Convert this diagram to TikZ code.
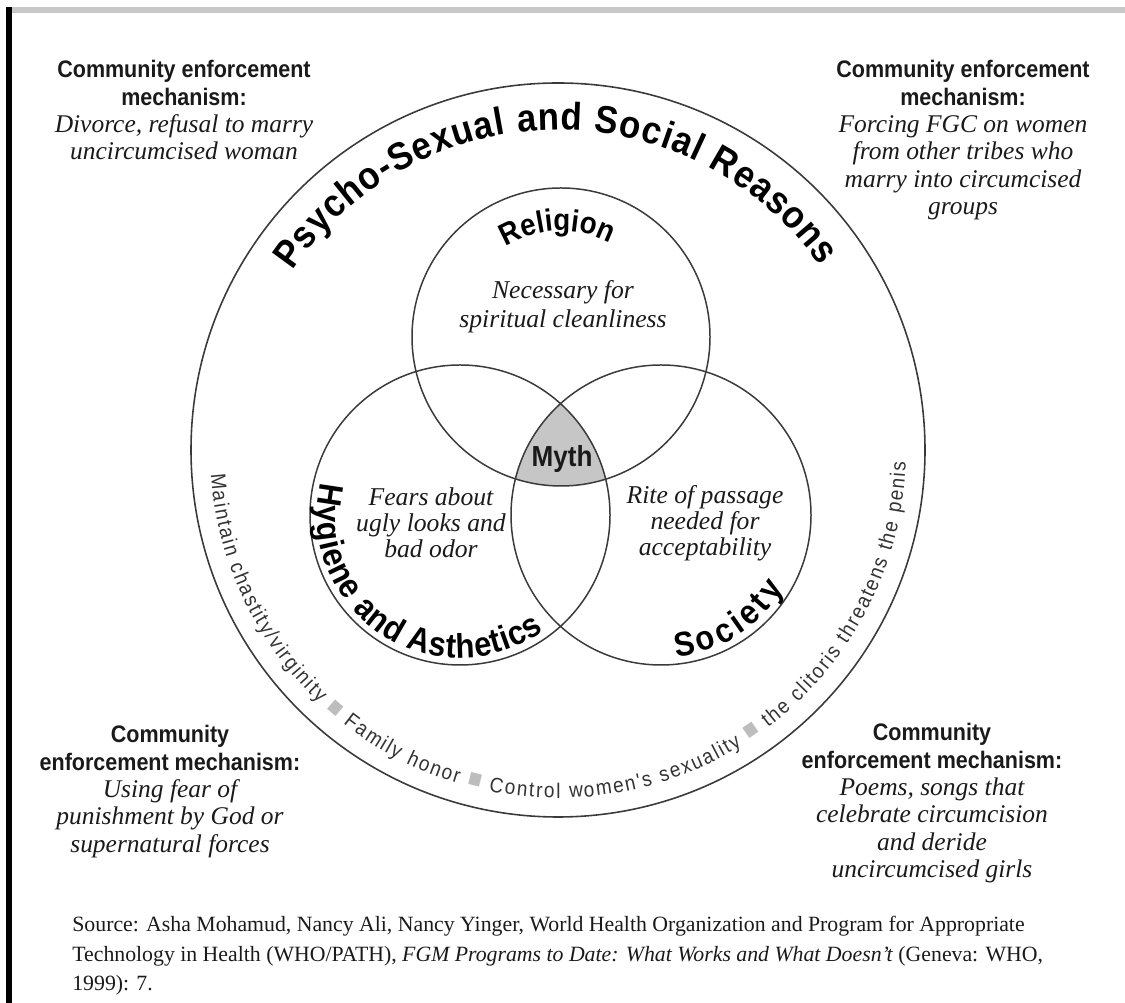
\documentclass[tikz,border=0pt]{standalone}
\usepackage{fontspec}
\setmainfont{Liberation Serif}
\newfontfamily\condsans[FakeStretch=0.9]{Liberation Sans}
\usetikzlibrary{decorations.text}
\definecolor{ink}{HTML}{1A1A1A}
\definecolor{rim}{HTML}{3A3A3A}
\definecolor{mythfill}{HTML}{C6C6C6}
\definecolor{ringtxt}{HTML}{333333}
\definecolor{sqgray}{HTML}{BDBDBD}
\definecolor{bar}{HTML}{C8C8C8}
\newcommand{\hd}{\condsans\bfseries\fontsize{13.6}{15.6}\selectfont}
\newcommand{\mechit}{\rmfamily\mdseries\itshape\fontsize{14.5}{15.6}\selectfont}
\newcommand{\titlefont}{\condsans\bfseries\fontsize{22}{24}\selectfont}
\newcommand{\circfont}{\condsans\bfseries\fontsize{17.5}{18}\selectfont}
\newcommand{\vennfont}{\condsans\bfseries\fontsize{19.5}{20}\selectfont}
\newcommand{\ringfont}{\condsans\fontsize{12}{13}\selectfont\color{ringtxt}}
\newcommand{\sqfont}{\condsans\fontsize{14.5}{15}\selectfont\color{sqgray}}
\tikzset{
  rimline/.style={draw=rim, line width=0.9pt},
  vennline/.style={draw=rim, line width=0.85pt},
  arclbl/.style 2 args={decorate, decoration={text along path, text={#1}, text align=#2}},
  corner/.style={align=center, inner sep=0pt, anchor=north, text=ink,
                 font=\fontsize{14}{15.6}\selectfont},
  note/.style={align=center, inner sep=0pt, text=ink,
               font=\rmfamily\itshape\fontsize{14.6}{14.7}\selectfont},
  mythlbl/.style={inner sep=0pt, text=ink, font=\condsans\bfseries\fontsize{16.5}{18}\selectfont},
  source/.style={align=left, inner sep=0pt, anchor=north west, text=ink,
                 font=\rmfamily\fontsize{12.4}{16.8}\selectfont}
}
\begin{document}
\begin{tikzpicture}[x=0.02cm,y=0.02cm]
  \useasboundingbox (0,0) rectangle (1125,1003);
  % frame
  \fill[bar] (12,990) rectangle (1125,996);
  \fill[black] (6,0) rectangle (12,996);

  \coordinate (outer) at (558,553);
  \coordinate (rel) at (561,666);
  \coordinate (hyg) at (460,488);
  \coordinate (soc) at (661,488);

  % shaded triple overlap
  \begin{scope}
    \clip (rel) circle[radius=149];
    \clip (hyg) circle[radius=150];
    \fill[mythfill] (soc) circle[radius=150];
  \end{scope}

  \draw[rimline] (outer) circle[radius=367];
  \foreach \c/\r in {rel/149, hyg/150, soc/150}
    \draw[vennline] (\c) circle[radius=\r];

  % curved labels
  \path[arclbl={|\titlefont|Psycho-Sexual and Social Reasons}{fit to path}]
    (outer) ++(146:320) arc[start angle=146, end angle=35, radius=320];
  \path[arclbl={|\circfont|Religion}{center}]
    (rel) ++(152:106) arc[start angle=152, end angle=32, radius=106];
  \path[arclbl={|\vennfont|Hygiene and Asthetics}{fit to path}]
    (hyg) ++(167:143) arc[start angle=167, end angle=306, radius=143];
  \path[arclbl={|\vennfont|Society}{fit to path}]
    (soc) ++(276:143) arc[start angle=276, end angle=329, radius=143];
  \path[arclbl={|\ringfont|Maintain chastity/virginity |\sqfont|■|\ringfont| Family honor |\sqfont|■|\ringfont| Control women's sexuality |\sqfont|■|\ringfont| the clitoris threatens the penis}{fit to path}]
    (outer) ++(184:348) arc[start angle=184, end angle=358, radius=348];

  % texts inside the circles
  \node[note, font=\rmfamily\itshape\fontsize{14.6}{16.4}\selectfont] (relnote) at (563,696) {Necessary for\\spiritual cleanliness};
  \node[note] (hygnote) at (431,480) {Fears about\\ugly looks and\\bad odor};
  \node[note] (socnote) at (705,480) {Rite of passage\\needed for\\acceptability};
  \node[mythlbl] (myth) at (562,544) {Myth};

  % enforcement mechanisms
  \node[corner] (mechTL) at (184,943)
    {\hd Community enforcement\\\hd mechanism:\\\mechit Divorce, refusal to marry\\\mechit uncircumcised woman};
  \node[corner] (mechTR) at (963,943)
    {\hd Community enforcement\\\hd mechanism:\\\mechit Forcing FGC on women\\\mechit from other tribes who\\\mechit marry into circumcised\\\mechit groups};
  \node[corner] (mechBL) at (170,278)
    {\hd Community\\\hd enforcement mechanism:\\\mechit Using fear of\\\mechit punishment by God or\\\mechit supernatural forces};
  \node[corner] (mechBR) at (932,280)
    {\hd Community\\\hd enforcement mechanism:\\\mechit Poems, songs that\\\mechit celebrate circumcision\\\mechit and deride\\\mechit uncircumcised girls};

  \node[source] (src) at (72,87)
    {Source: Asha Mohamud, Nancy Ali, Nancy Yinger, World Health Organization and Program for Appropriate\\Technology in Health (WHO/PATH), \textit{FGM Programs to Date: What Works and What Doesn't} (Geneva: WHO,\\1999): 7.};
\end{tikzpicture}
\end{document}
